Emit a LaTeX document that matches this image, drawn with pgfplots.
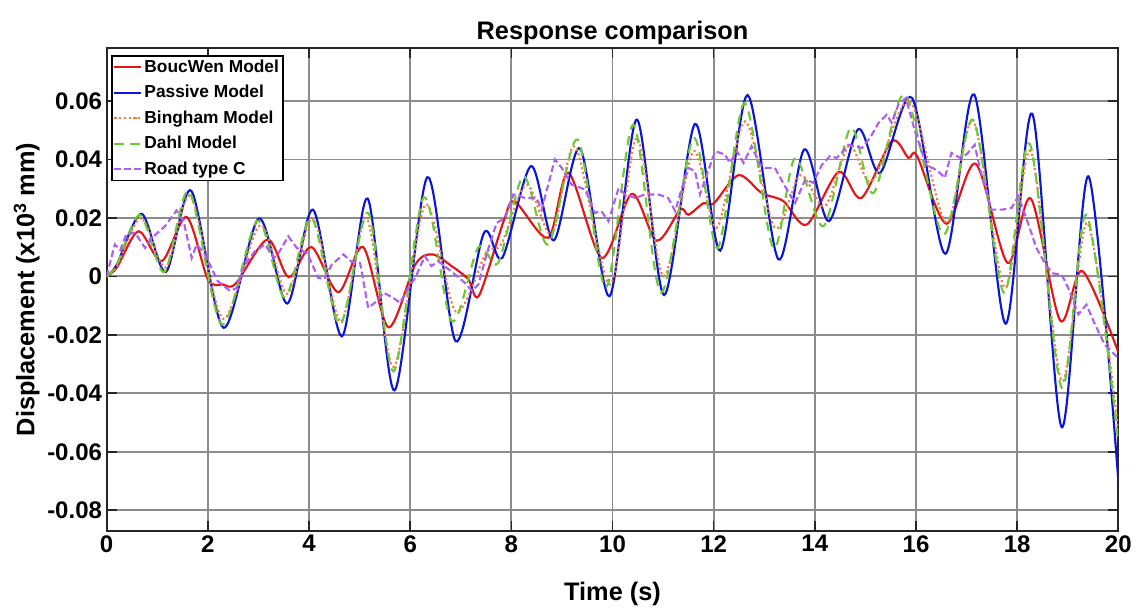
\documentclass[border=0pt]{standalone}
\usepackage{pgfplots}
\pgfplotsset{compat=1.18}
\usepackage{fontspec}
\setmainfont{Liberation Sans}
\definecolor{cRed}{RGB}{230,20,20}
\definecolor{cBlue}{RGB}{10,20,220}
\definecolor{cOrange}{RGB}{240,125,60}
\definecolor{cGreen}{RGB}{110,200,50}
\definecolor{cPurple}{RGB}{175,95,240}
\begin{document}
\begin{tikzpicture}
\begin{axis}[
  scale only axis,
  width=758.7pt, height=361.8pt,
  xmin=0, xmax=20, ymin=-0.087, ymax=0.078,
  xtick={0,2,...,20},
  ytick={-0.08,-0.06,-0.04,-0.02,0,0.02,0.04,0.06},
  yticklabels={-0.08,-0.06,-0.04,-0.02,0,0.02,0.04,0.06},
  scaled y ticks=false,
  /pgf/number format/assume math mode=true,
  tick label style={font=\bfseries\fontsize{18}{20}\selectfont},
  tick align=inside,
  major tick length=7.5pt,
  tick style={line width=1.2pt, black!85},
  grid=major,
  major grid style={line width=1.3pt, black!45},
  axis line style={line width=1.6pt, black!85},
  title={Response comparison},
  title style={font=\bfseries\fontsize{19}{22}\selectfont, at={(axis description cs:0.5,1.016)}, anchor=center},
  xlabel={Time (s)},
  xlabel style={font=\bfseries\fontsize{19}{22}\selectfont, at={(axis description cs:0.5,-0.132)}, anchor=center},
  ylabel={Displacement (x10\textsuperscript{3} mm)},
  ylabel style={font=\bfseries\fontsize{19}{22}\selectfont, at={(axis description cs:-0.079,0.5)}, anchor=center, rotate=0},
  legend style={at={(axis description cs:0.0043,0.986)}, anchor=north west, draw=black, line width=1.3pt,
    font=\bfseries\fontsize{13}{14}\selectfont, inner sep=1pt, row sep=4.2pt, fill=white},
  legend cell align=left,
  legend image code/.code={\draw[#1, line width=1.5pt] plot coordinates {(0cm,0cm) (0.35cm,0cm) (0.7cm,0cm)};},
  every axis plot/.append style={line width=1.6pt},
]
% BoucWen Model
\addplot[cRed, smooth, tension=0.5] coordinates {
(0,0) (0.2,0.003) (0.63,0.0154) (1.09,0.0052) (1.58,0.0203) (2.0,-0.001) (2.3,-0.0028) (2.55,-0.0025)
(3.18,0.0126) (3.6,-0.0003) (4.05,0.01) (4.58,-0.0054) (5.07,0.01) (5.57,-0.0174) (6.1,0.004) (6.44,0.0075)
(6.82,0.0035) (7.15,-0.001) (7.36,-0.0066) (7.85,0.019) (8.07,0.0255) (8.73,0.0132) (9.13,0.0354) (9.79,0.0063)
(10.38,0.0282) (10.87,0.0122) (11.34,0.0228) (11.5,0.0211) (11.8,0.025) (12.0,0.0249) (12.49,0.0346) (12.95,0.0285)
(13.38,0.0257) (13.84,0.0177) (14.47,0.0357) (14.92,0.0268) (15.52,0.0462) (15.85,0.0405) (16.02,0.0412)
(16.6,0.018) (17.18,0.0385) (17.81,0.0046) (18.27,0.0266) (18.85,-0.0151) (19.29,0.0018) (20,-0.026)
};
\addlegendentry{BoucWen Model}
% Passive Model
\addplot[cBlue, smooth, tension=0.5] coordinates {
(0,0) (0.2,0.004) (0.69,0.0214) (1.17,0.0015) (1.67,0.0293) (2.31,-0.0176) (3.01,0.0198) (3.57,-0.0093)
(4.08,0.0228) (4.65,-0.0205) (5.16,0.0266) (5.69,-0.039) (6.34,0.0339) (6.9,-0.0222) (7.46,0.0149) (7.82,0.0063)
(8.39,0.0377) (8.84,0.0123) (9.36,0.0437) (9.94,-0.0068) (10.48,0.0536) (11.02,-0.0064) (11.63,0.0521)
(12.13,0.0088) (12.67,0.062) (13.28,0.0058) (13.79,0.0434) (14.28,0.0189) (14.85,0.0502) (15.29,0.0354)
(15.92,0.061) (16.58,0.0077) (17.15,0.0622) (17.77,-0.0162) (18.3,0.0556) (18.88,-0.0516) (19.41,0.0342) (20,-0.07)
};
\addlegendentry{Passive Model}
% Bingham Model
\addplot[cOrange, smooth, tension=0.5, dotted] coordinates {
(0,0) (0.2,0.0035) (0.68,0.020) (1.17,0.003) (1.66,0.0275) (2.3,-0.0145) (3.03,0.0175) (3.57,-0.006)
(4.08,0.02) (4.63,-0.0155) (5.14,0.02) (5.67,-0.031) (6.3,0.0245) (6.9,-0.012) (7.5,0.008) (7.8,0.011)
(8.3,0.0314) (8.8,0.0143) (9.26,0.0444) (9.95,-0.0028) (10.48,0.0473) (11.01,0.0) (11.6,0.0428)
(12.06,0.0166) (12.62,0.053) (13.21,0.0166) (13.71,0.0346) (14.2,0.024) (14.68,0.0448) (15.13,0.0325)
(15.87,0.06) (16.6,0.0183) (17.13,0.0533) (17.76,-0.004) (18.27,0.0428) (18.88,-0.0358) (19.39,0.0183) (20,-0.053)
};
\addlegendentry{Bingham Model}
% Dahl Model
\addplot[cGreen, smooth, tension=0.5, dash pattern=on 7pt off 5pt] coordinates {
(0,0) (0.2,0.004) (0.66,0.021) (1.14,0.0015) (1.63,0.029) (2.28,-0.0165) (2.98,0.019) (3.52,-0.0072)
(4.05,0.02) (4.61,-0.0165) (5.17,0.0217) (5.67,-0.0325) (6.27,0.027) (6.82,-0.0153) (7.35,0.01) (7.74,0.0046)
(8.24,0.0342) (8.73,0.0109) (9.31,0.0468) (9.87,-0.0039) (10.41,0.0519) (10.96,-0.0056) (11.6,0.0473)
(12.08,0.0097) (12.61,0.0593) (13.18,0.0097) (13.61,0.0405) (14.17,0.0171) (14.71,0.0508) (15.16,0.0285)
(15.78,0.0622) (16.54,0.0143) (17.13,0.0536) (17.74,-0.0056) (18.25,0.0453) (18.88,-0.0381) (19.37,0.0211) (20,-0.057)
};
\addlegendentry{Dahl Model}
% Road type C
\addplot[cPurple, dash pattern=on 5pt off 2.5pt] coordinates {
(0,0) (0.16,0.0109) (0.27,0.009) (0.39,0.0145) (0.56,0.0149) (0.76,0.0097) (0.89,0.0131) (1.15,0.0171)
(1.38,0.0225) (1.52,0.019) (1.68,0.0063) (1.78,0.0109) (1.94,0.0075) (2.2,-0.0017) (2.44,-0.005) (2.57,-0.004)
(2.73,0.004) (2.93,0.0086) (3.13,0.0109) (3.3,0.0063) (3.4,0.008) (3.59,0.0137) (3.76,0.0097) (3.97,0.0078)
(4.18,-0.0005) (4.3,-0.001) (4.45,0.004) (4.68,0.0075) (4.84,0.005) (5.01,0.0046) (5.17,-0.0108) (5.34,-0.0085)
(5.47,-0.0056) (5.63,-0.007) (5.8,-0.009) (5.96,-0.004) (6.1,-0.0005) (6.29,0.0069) (6.42,0.0035) (6.55,0.0052)
(6.68,0.0035) (6.89,0.0006) (7.08,-0.0022) (7.22,-0.005) (7.35,-0.0028) (7.51,0.0075) (7.71,0.0183) (7.88,0.02)
(8.04,0.028) (8.27,0.0268) (8.5,0.0268) (8.6,0.0228) (8.86,0.04) (9.0,0.037) (9.19,0.0314) (9.46,0.0297)
(9.65,0.0217) (9.78,0.0223) (9.92,0.0188) (10.12,0.0302) (10.25,0.028) (10.45,0.0268) (10.64,0.028) (10.91,0.028)
(11.1,0.0268) (11.24,0.0223) (11.37,0.0302) (11.5,0.0371) (11.63,0.036) (11.73,0.028) (11.83,0.0331) (12.03,0.0428)
(12.22,0.0417) (12.32,0.0388) (12.46,0.0428) (12.59,0.0388) (12.75,0.0445) (12.92,0.0382) (13.02,0.0371) (13.21,0.0371)
(13.41,0.0308) (13.61,0.0251) (13.81,0.0331) (13.97,0.032) (14.14,0.0382) (14.3,0.0411) (14.43,0.0405) (14.53,0.0422)
(14.66,0.045) (14.93,0.0439) (15.09,0.0473) (15.26,0.0525) (15.42,0.0553) (15.52,0.0525) (15.65,0.0587) (15.8,0.061)
(15.98,0.0496) (16.21,0.0377) (16.34,0.037) (16.47,0.0354) (16.57,0.0337) (16.7,0.0422) (16.87,0.0405) (17.0,0.0417)
(17.16,0.045) (17.26,0.0371) (17.49,0.0228) (17.7,0.0228) (17.89,0.0234) (18.02,0.0274) (18.19,0.0194) (18.38,0.0097)
(18.58,0.0035) (18.71,0.001) (18.88,0.0006) (19.01,-0.004) (19.21,-0.013) (19.37,-0.0097) (19.54,-0.0165)
(19.73,-0.0233) (20,-0.028)
};
\addlegendentry{Road type C}
\end{axis}
\pgfresetboundingbox
\path (-80pt,-58pt) rectangle (775.7pt,398pt);
\end{tikzpicture}
\end{document}
